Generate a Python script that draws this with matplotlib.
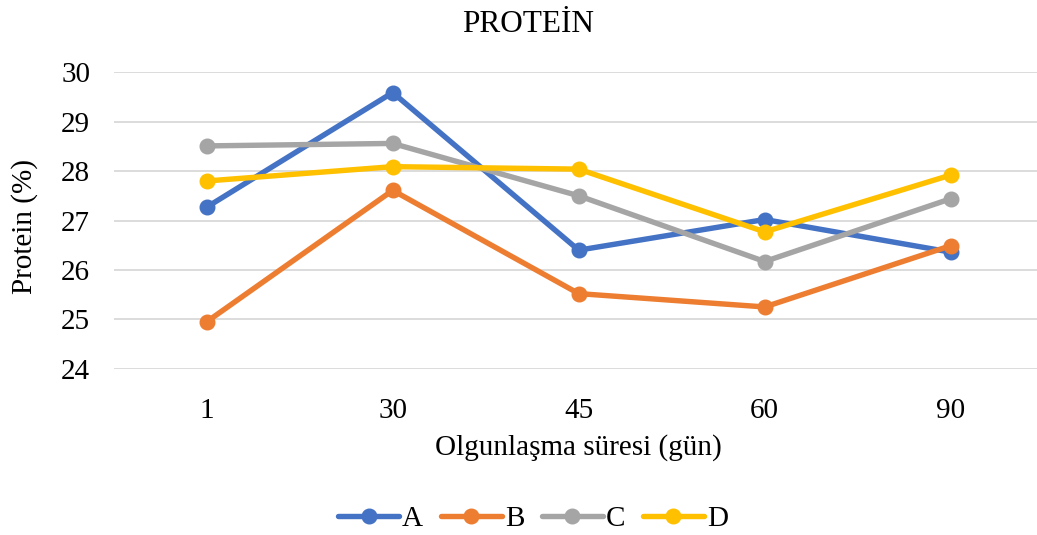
import matplotlib.pyplot as plt
import numpy as np

plt.rcParams['font.family'] = ['Liberation Serif', 'DejaVu Serif']

days = ['1', '30', '45', '60', '90']
series_names = ['A', 'B', 'C', 'D']
A = [27.27, 29.59, 26.40, 27.02, 26.36]
B = [24.95, 27.61, 25.52, 25.25, 26.49]
C = [28.51, 28.56, 27.50, 26.17, 27.44]
D = [27.80, 28.09, 28.04, 26.77, 27.92]
colors = ['#4472C4', '#ED7D31', '#A5A5A5', '#FFC000']

fig = plt.figure(figsize=(10.37, 5.35), dpi=100)
ax = fig.add_axes([113.7 / 1037, 1 - 368.7 / 535, 930 / 1037, (368.7 - 72.3) / 535])

x = np.arange(len(days))
for name, vals, c in zip(series_names, [A, B, C, D], colors):
    ax.plot(x, vals, color=c, lw=3.9, marker='o', markersize=10.5, label=name,
            solid_capstyle='round', solid_joinstyle='round')

ax.set_xlim(-0.5, 4.5)
ax.set_ylim(24, 30)
ax.set_yticks(range(24, 31))
ax.set_xticks(x)
ax.set_xticklabels(days)
ax.tick_params(axis='both', length=0, labelsize=21)
ax.tick_params(axis='y', pad=17)
ax.tick_params(axis='x', pad=21)
ax.grid(axis='y', color='#D9D9D9', lw=1.3)
ax.set_axisbelow(True)
for s in ax.spines.values():
    s.set_visible(False)

ax.set_xlabel('Olgunlaşma süresi (gün)', fontsize=21, labelpad=7)
fig.text(25 / 1037, 1 - 226 / 535, 'Protein (%)', rotation=90, fontsize=21,
         ha='center', va='center')
fig.text(528 / 1037, 1 - 24 / 535, 'PROTEİN', fontsize=22.5, ha='center', va='center')

fig.legend(loc='center', bbox_to_anchor=(533 / 1037, 1 - 519 / 535), ncol=4,
           frameon=False, fontsize=21, handlelength=2.1, handletextpad=0.1,
           columnspacing=0.6)

fig.savefig('out.png', dpi=100)
